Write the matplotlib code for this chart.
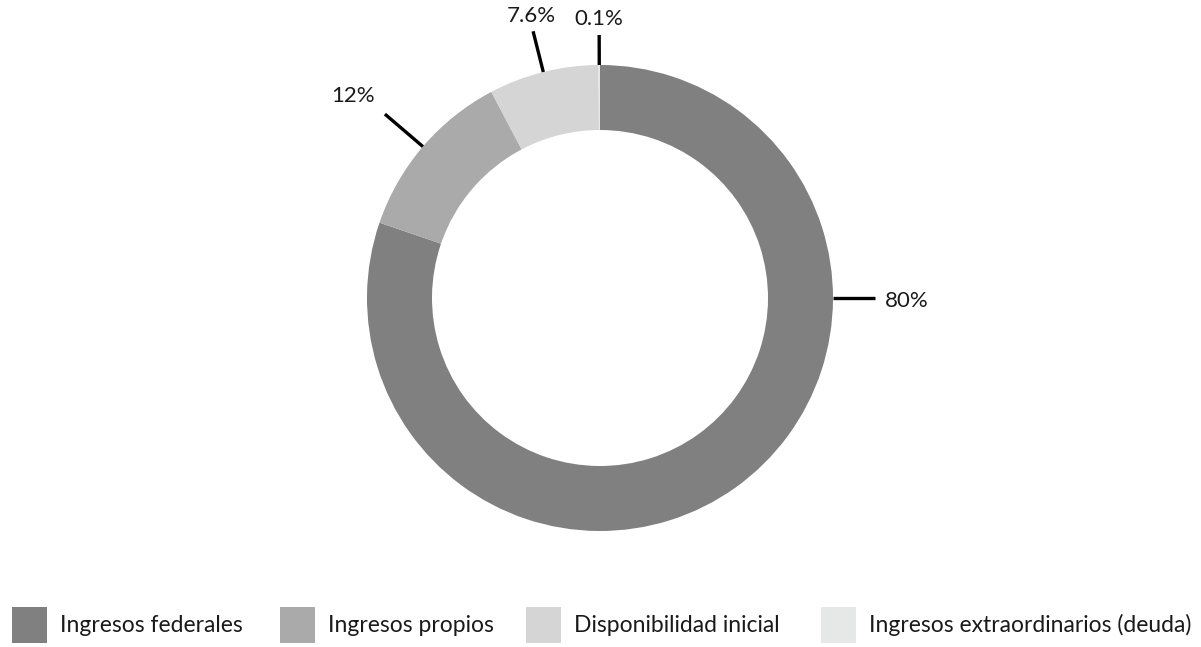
import numpy as np
import matplotlib.pyplot as plt
from matplotlib.patches import Rectangle

categories = ['Ingresos federales', 'Ingresos propios',
              'Disponibilidad inicial', 'Ingresos extraordinarios (deuda)']
shares = [80.0, 12.0, 7.6, 0.1]
share_labels = ['80%', '12%', '7.6%', '0.1%']
colors = ['#7f807f', '#a9aaa9', '#d4d5d4', '#e6e8e7']

plt.rcParams['font.family'] = ['Lato', 'DejaVu Sans']

W, H = 1201, 647
fig = plt.figure(figsize=(W / 100, H / 100), dpi=100)
ax = fig.add_axes([0, 0, 1, 1])

cx, cy = 600, H - 298
r_out, ring = 233, 65

wedges, _ = ax.pie(shares, colors=colors, radius=r_out, center=(cx, cy),
                   startangle=90, counterclock=False, normalize=True,
                   wedgeprops=dict(width=ring, linewidth=0))

# pie() resets the limits, so work in pixel units after it
ax.set_xlim(0, W)
ax.set_ylim(0, H)
ax.set_aspect('equal')
ax.axis('off')

# leader lines: radial ticks out from the ring, text past the end
label_angle = {0: 0.0}  # the big slice is labelled at 3 o'clock
tick_len = [42, 50, 42, 30]
text_offset = {0: (10, -3, 'left'), 1: (-10, 18, 'right'),
               2: (-2, 15, 'center'), 3: (0, 16, 'center')}
for i, w in enumerate(wedges):
    ang = label_angle.get(i, (w.theta1 + w.theta2) / 2)
    a = np.deg2rad(ang)
    x0, y0 = cx + r_out * np.cos(a), cy + r_out * np.sin(a)
    r1 = r_out + tick_len[i]
    x1, y1 = cx + r1 * np.cos(a), cy + r1 * np.sin(a)
    ax.plot([x0, x1], [y0, y1], color='black', lw=2.4, solid_capstyle='butt')
    dx, dy, ha = text_offset[i]
    ax.text(x1 + dx, y1 + dy, share_labels[i], ha=ha, va='center',
            fontsize=16, color='#1a1a1a')

# legend along the bottom
box_x = [12, 280, 526, 821]
for bx, name, c in zip(box_x, categories, colors):
    ax.add_patch(Rectangle((bx, H - 643), 35, 36, color=c, lw=0))
    ax.text(bx + 48, H - 625, name, ha='left', va='center',
            fontsize=16.5, color='#1a1a1a')

fig.savefig('out.png', dpi=100)
